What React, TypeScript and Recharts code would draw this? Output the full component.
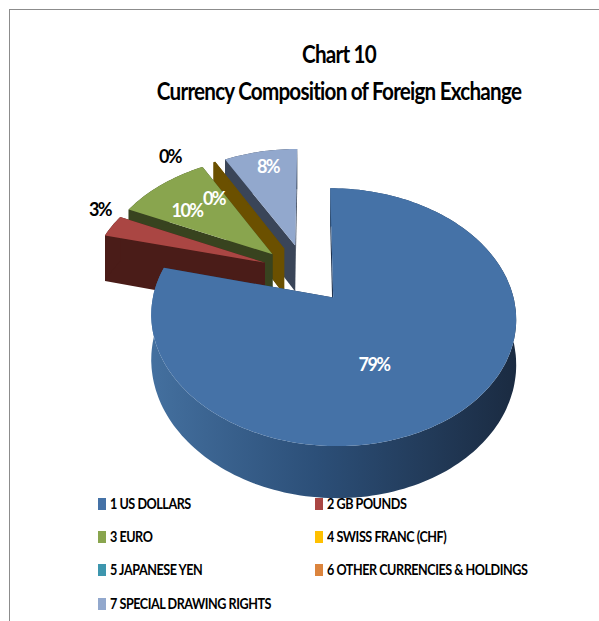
import { PieChart, Pie, Legend } from 'recharts';

const categories = [
  '1 US DOLLARS',
  '2 GB POUNDS',
  '3 EURO',
  '4 SWISS FRANC (CHF)',
  '5 JAPANESE YEN',
  '6 OTHER CURRENCIES & HOLDINGS',
  '7 SPECIAL DRAWING RIGHTS',
];
const shares = [79.4, 3, 10, 0.2, 0, 0, 8];
const topColors = ['#4572a7', '#aa4643', '#89a54e', '#ffc000', '#3d96ae', '#db843d', '#92a8cd'];
const sideColors = ['url(#rimBlue)', '#4a1c18', '#38431f', '#6b5000', '#245a68', '#7a4a20', '#3a4558'];
const titleLines = ['Chart 10', 'Currency Composition of Foreign Exchange'];

// drawn back to front, so the big slice is last and sits on top
const data = categories
  .map((name, i) => ({ name, value: shares[i], fill: topColors[i], side: sideColors[i], idx: i }))
  .reverse();

const FONT = 'Lato, "Liberation Sans", sans-serif';
const CX = 311;
const CY = 278;
const SCALE_X = 176;
const SCALE_Y = 120;
const PERSPECTIVE = 0.15;
const DEPTH_MAIN = 43;
const DEPTH_SMALL = 48;
const EXPLODE_MAIN = 0.2;
const EXPLODE_SMALL = 0.27;
const SMALL_SHIFT_X = -0.027;
const SMALL_SHIFT_Y = 0.02;
const RED_SHIFT_X = 0.015;
const RED_SHIFT_Y = 0.02;

const labelSpots: Record<number, { x: number; y: number; color: string }> = {
  0: { x: 374, y: 364, color: '#fff' },
  1: { x: 100, y: 209, color: '#000' },
  2: { x: 187, y: 210, color: '#fff' },
  3: { x: 170, y: 156, color: '#000' },
  5: { x: 214, y: 198, color: '#fff' },
  6: { x: 268, y: 166, color: '#fff' },
};

const rad = (d: number) => (d * Math.PI) / 180;

// ground plane (radius = 1) to screen, nearer points come out bigger
const project = (X: number, Y: number, drop = 0) => {
  const w = 1 + PERSPECTIVE * Y;
  return [CX + (SCALE_X * X) / w, CY - (SCALE_Y * Y) / w + drop / w];
};

const pathOf = (pts: number[][]) =>
  'M' + pts.map((p) => `${p[0].toFixed(1)},${p[1].toFixed(1)}`).join('L') + 'Z';

function Slice3D(props: any) {
  const { startAngle, endAngle, payload, fill } = props;
  if (!payload || payload.value === 0) return null;
  const isMain = payload.idx === 0;
  const isRed = payload.idx === 1;
  const mid = (startAngle + endAngle) / 2;
  const e = isMain ? EXPLODE_MAIN : EXPLODE_SMALL;
  const ex = e * Math.cos(rad(mid)) + (isMain ? 0 : SMALL_SHIFT_X) + (isRed ? RED_SHIFT_X : 0);
  const ey = e * Math.sin(rad(mid)) + (isMain ? 0 : SMALL_SHIFT_Y) + (isRed ? RED_SHIFT_Y : 0);
  const depth = isMain ? DEPTH_MAIN : DEPTH_SMALL;

  const rim: number[][] = [];
  const n = Math.max(2, Math.ceil(Math.abs(endAngle - startAngle) / 1.5));
  for (let i = 0; i <= n; i++) {
    const a = rad(startAngle + ((endAngle - startAngle) * i) / n);
    rim.push([ex + Math.cos(a), ey + Math.sin(a)]);
  }
  const up = rim.map((p) => project(p[0], p[1]));
  const down = rim.map((p) => project(p[0], p[1], depth));
  const apexUp = project(ex, ey);
  const apexDown = project(ex, ey, depth);
  const side = payload.side;
  const flat = isMain ? '#1f3350' : side;

  return (
    <g>
      <path d={pathOf([apexUp, up[0], down[0], apexDown])} fill={flat} />
      <path d={pathOf([apexUp, up[n], down[n], apexDown])} fill={flat} />
      <path d={pathOf([...up, ...down.slice().reverse()])} fill={side} />
      {/* the swiss franc sliver is so thin that only its side shows */}
      <path d={pathOf([apexUp, ...up])} fill={payload.idx === 3 ? side : fill} />
    </g>
  );
}

function PercentLabel(props: any) {
  const spot = labelSpots[props.payload?.idx ?? props.idx];
  if (!spot) return null;
  return (
    <text
      x={spot.x}
      y={spot.y}
      textAnchor="middle"
      dominantBaseline="central"
      fill={spot.color}
      fontFamily={FONT}
      fontWeight="bold"
      fontSize={18}
      letterSpacing={-1.6}
    >
      {Math.round((props.percent ?? 0) * 100)}%
    </text>
  );
}

function LegendRows() {
  return (
    <div style={{ position: 'relative', width: 470, height: 125, fontFamily: FONT, fontWeight: 'bold', fontSize: 15, letterSpacing: -0.55 }}>
      {categories.map((name, i) => (
        <div
          key={name}
          style={{
            position: 'absolute',
            left: i % 2 === 0 ? 0 : 217,
            top: Math.floor(i / 2) * 33.2,
            whiteSpace: 'nowrap',
            lineHeight: '18px',
            color: '#000',
          }}
        >
          <span
            style={{
              display: 'inline-block',
              width: 8,
              height: 12,
              marginRight: 4,
              verticalAlign: '-1px',
              background: topColors[i],
            }}
          />
          <span style={{ display: 'inline-block', transform: 'scaleX(0.84)', transformOrigin: 'left center' }}>{name}</span>
        </div>
      ))}
    </div>
  );
}

export default function App() {
  return (
    <div style={{ position: 'absolute', left: 0, top: 0, width: 599, height: 621, overflow: 'hidden', background: '#fff' }}>
      <div style={{ position: 'absolute', left: 9, top: 9, width: 700, height: 700, borderLeft: '1px solid #8c8c8c', borderTop: '1px solid #8c8c8c' }} />
      <div
        style={{
          position: 'absolute',
          left: 89,
          width: 500,
          top: 35,
          textAlign: 'center',
          fontFamily: FONT,
          fontWeight: 'bold',
          fontSize: 24,
          letterSpacing: -0.9,
          lineHeight: '37px',
          color: '#000',
          transform: 'scaleX(0.86)',
        }}
      >
        {titleLines.map((t) => (
          <div key={t}>{t}</div>
        ))}
      </div>
      <PieChart width={599} height={621} style={{ position: 'absolute', left: 0, top: 0 }}>
        <defs>
          <linearGradient id="rimBlue" gradientUnits="userSpaceOnUse" x1="150" y1="0" x2="520" y2="0">
            <stop offset="0" stopColor="#44709f" />
            <stop offset="0.45" stopColor="#2c4f78" />
            <stop offset="1" stopColor="#1a2a40" />
          </linearGradient>
        </defs>
        <Pie
          data={data}
          dataKey="value"
          nameKey="name"
          cx={CX}
          cy={CY}
          outerRadius={SCALE_X}
          startAngle={90}
          endAngle={450}
          stroke="none"
          isAnimationActive={false}
          shape={Slice3D}
          inactiveShape={Slice3D}
          label={PercentLabel}
          labelLine={false}
        />
        <Legend
          content={<LegendRows />}
          wrapperStyle={{ position: 'absolute', left: 98, top: 494, width: 470, bottom: 'auto' }}
        />
      </PieChart>
    </div>
  );
}
